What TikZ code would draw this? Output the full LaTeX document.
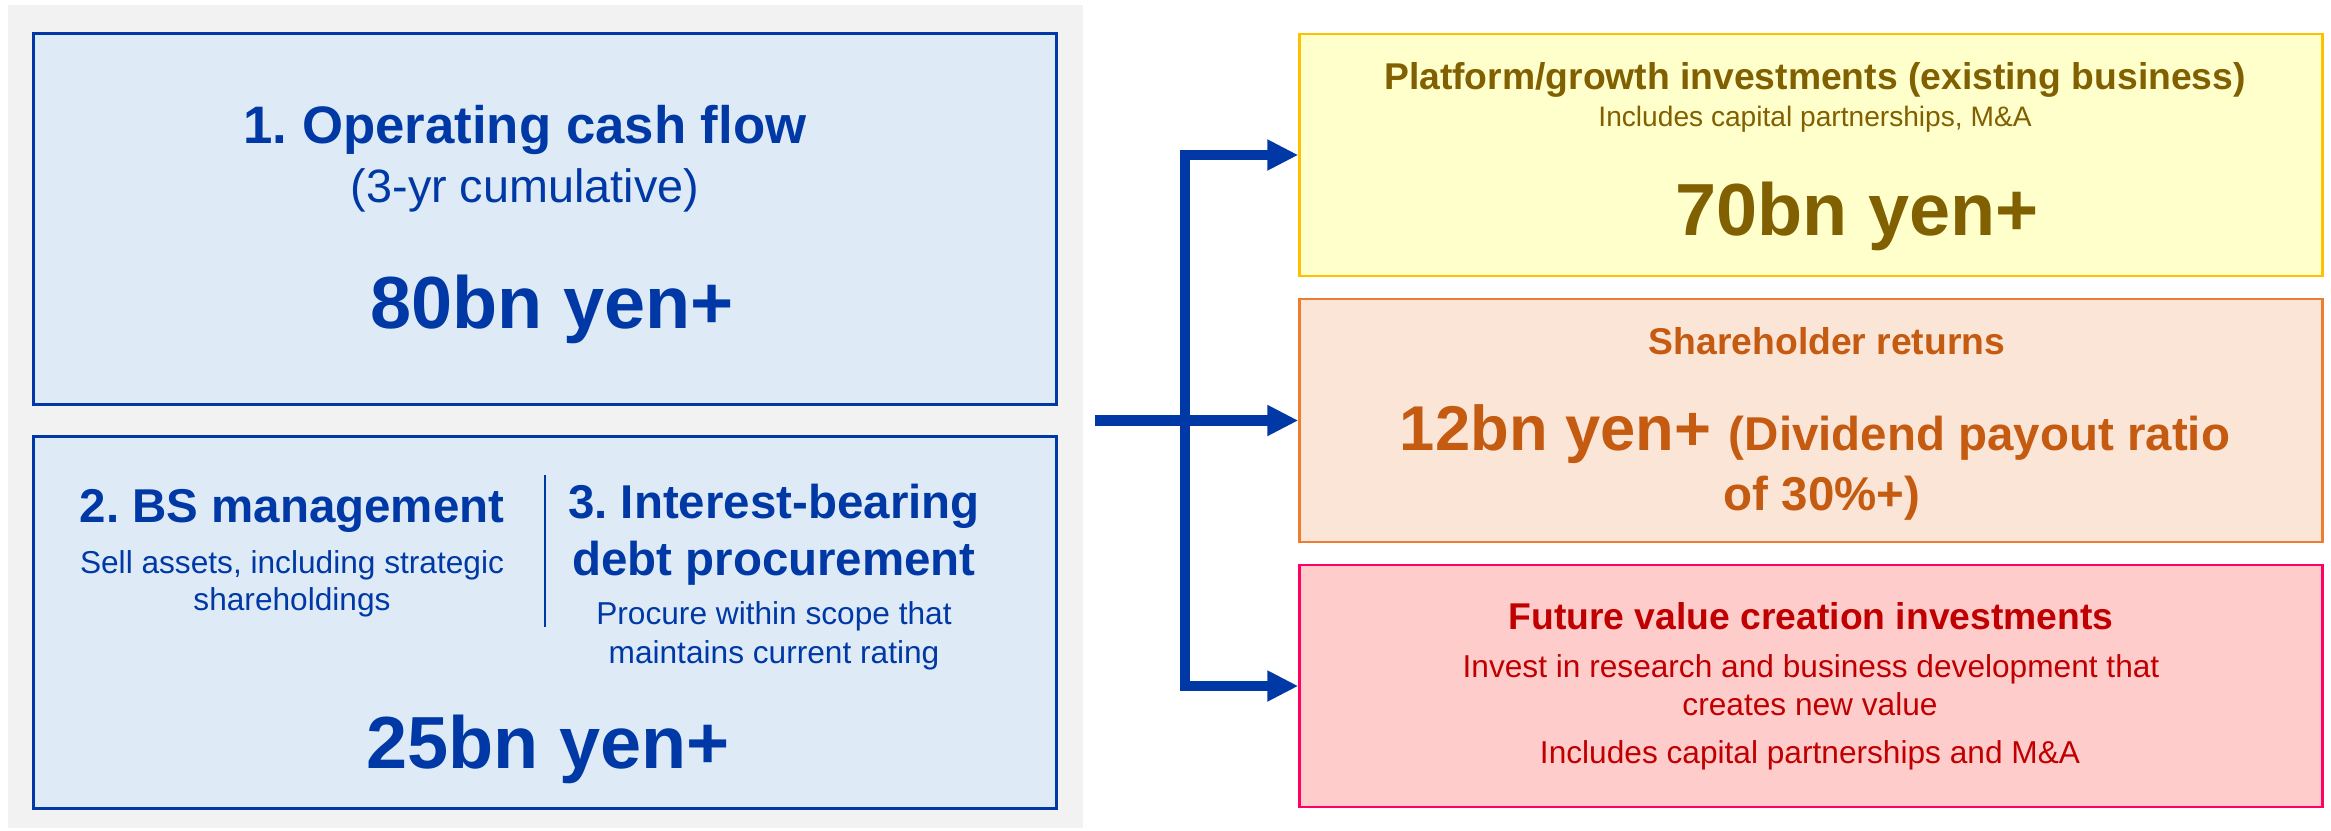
\documentclass[tikz,border=0pt]{standalone}
\usepackage{fontspec}
\setmainfont{Liberation Sans}
\usepackage{tikz}
\usetikzlibrary{arrows.meta,positioning}
\usepackage{xcolor}
\frenchspacing

\definecolor{cfblue}{RGB}{0,57,166}
\definecolor{cfpale}{RGB}{222,235,247}
\definecolor{panelgray}{RGB}{242,242,242}
\definecolor{platfill}{RGB}{255,255,204}
\definecolor{platline}{RGB}{255,192,0}
\definecolor{plattext}{RGB}{128,96,0}
\definecolor{retfill}{RGB}{251,229,214}
\definecolor{retline}{RGB}{237,125,49}
\definecolor{rettext}{RGB}{197,90,17}
\definecolor{futfill}{RGB}{255,204,204}
\definecolor{futline}{RGB}{255,0,102}
\definecolor{futtext}{RGB}{192,0,0}

\begin{document}
\begin{tikzpicture}[
  x=0.01cm, y=-0.01cm,
  box/.style={draw,line width=0.8pt,inner sep=0pt,minimum width=10.22cm},
  srcbox/.style={box,draw=cfblue,fill=cfpale},
  txt/.style={anchor=base,inner sep=0pt,align=center},
  amount/.style={txt,font=\bfseries\fontsize{21}{25}\selectfont},
  head/.style={txt,font=\bfseries\fontsize{10.6}{13}\selectfont},
  note/.style={txt,font=\fontsize{9}{11}\selectfont},
  flow/.style={-{Triangle[length=0.31cm,width=0.29cm]},line width=3.1pt,
               draw=cfblue,line join=miter}
]
  \useasboundingbox (0,0) rectangle (2331,830);

  % sources
  \node[fill=panelgray,inner sep=0pt,minimum width=10.75cm,minimum height=8.23cm]
    (panel) at (545.5,416.5) {};
  \node[srcbox,minimum height=3.70cm] (ocf) at (545,219) {};
  \node[srcbox,minimum height=3.71cm] (bs) at (545,622.5) {};

  \node[txt,text=cfblue,font=\bfseries\fontsize{15}{18}\selectfont] (ocftitle) at (525,143)
    {1. Operating cash flow};
  \node[txt,text=cfblue,font=\fontsize{13.3}{16}\selectfont] (ocfsub) at (525,202)
    {(3-yr cumulative)};
  \node[amount,text=cfblue] (ocfval) at (552,328) {80bn yen+};

  \node[txt,text=cfblue,font=\bfseries\fontsize{13.5}{16}\selectfont] (bstitle) at (292,522)
    {2. BS management};
  \node[note,text=cfblue] (bsnote1) at (292,573) {Sell assets, including strategic};
  \node[note,text=cfblue] (bsnote2) at (292,610) {shareholdings};
  \draw[cfblue,line width=0.6pt] (545,475) -- (545,627);
  \node[txt,text=cfblue,font=\bfseries\fontsize{13.5}{16}\selectfont] (debttitle1) at (774,518)
    {3. Interest-bearing};
  \node[txt,text=cfblue,font=\bfseries\fontsize{13.5}{16}\selectfont] (debttitle2) at (774,575)
    {debt procurement};
  \node[note,text=cfblue] (debtnote1) at (774,624) {Procure within scope that};
  \node[note,text=cfblue] (debtnote2) at (774,663) {maintains current rating};
  \node[amount,text=cfblue] (bsval) at (548,768) {25bn yen+};

  % uses
  \node[box,draw=platline,fill=platfill,minimum height=2.42cm] (plat) at (1811,155) {};
  \node[box,draw=retline,fill=retfill,minimum height=2.43cm] (ret) at (1811,420.5) {};
  \node[box,draw=futline,fill=futfill,minimum height=2.42cm] (fut) at (1811,686) {};

  \node[head,text=plattext] (plattitle) at (1815,89)
    {Platform/growth investments (existing business)};
  \node[txt,text=plattext,font=\fontsize{8}{10}\selectfont] (platnote) at (1815,126)
    {Includes capital partnerships, M\&A};
  \node[amount,text=plattext] (platval) at (1857,235) {70bn yen+};

  \node[head,text=rettext] (rettitle) at (1827,354) {Shareholder returns};
  \node[txt,text=rettext,font=\bfseries\fontsize{18}{22}\selectfont] (retval) at (1815,450)
    {12bn yen+ {\fontsize{13.5}{16}\selectfont(Dividend payout ratio}};
  \node[txt,text=rettext,font=\bfseries\fontsize{13.5}{16}\selectfont] (retval2) at (1822,510)
    {of 30\%+)};

  \node[head,text=futtext] (futtitle) at (1811,629) {Future value creation investments};
  \node[note,text=futtext] (futnote1) at (1811,677)
    {Invest in research and business development that};
  \node[note,text=futtext] (futnote2) at (1810,715) {creates new value};
  \node[note,text=futtext] (futnote3) at (1810,763) {Includes capital partnerships and M\&A};

  % allocation arrows
  \coordinate (start) at (1095,420.5);
  \coordinate (fork) at (1185,420.5);
  \draw[flow] (start) -- (ret.west);
  \draw[flow] (fork) |- (plat.west);
  \draw[flow] (fork) |- (fut.west);
\end{tikzpicture}
\end{document}
